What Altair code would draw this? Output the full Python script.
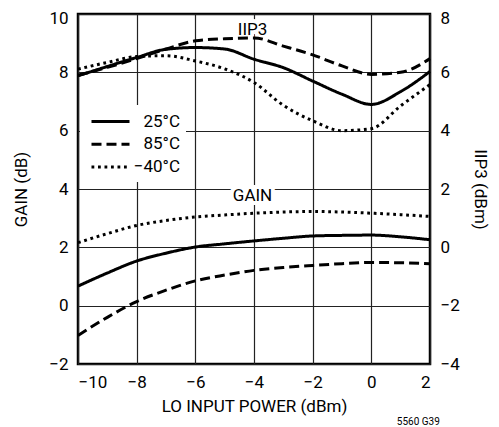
import altair as alt
import pandas as pd

# ---- data ----
lo_power = [-10, -9, -8, -7, -6, -5, -4, -3, -2, -1, 0, 1, 2]
series = ["25°C", "85°C", "−40°C"]

gain_25 = [0.67, 1.12, 1.53, 1.80, 2.01, 2.12, 2.22, 2.31, 2.39, 2.41, 2.42, 2.36, 2.26]
gain_85 = [-1.02, -0.40, 0.14, 0.53, 0.85, 1.05, 1.21, 1.31, 1.38, 1.44, 1.48, 1.47, 1.44]
gain_m40 = [2.16, 2.47, 2.75, 2.92, 3.04, 3.11, 3.17, 3.21, 3.23, 3.21, 3.17, 3.12, 3.06]

iip3_25 = [5.88, 6.20, 6.51, 6.79, 6.85, 6.80, 6.45, 6.16, 5.70, 5.25, 4.90, 5.34, 6.03]
iip3_85 = [5.90, 6.17, 6.47, 6.80, 7.08, 7.15, 7.18, 6.90, 6.60, 6.22, 5.93, 6.00, 6.47]
iip3_m40 = [6.11, 6.34, 6.54, 6.57, 6.39, 6.12, 5.65, 4.87, 4.34, 4.00, 4.07, 4.85, 5.58]

x_ticks = [-10, -8, -6, -4, -2, 0, 2]
gain_ticks = [-2, 0, 2, 4, 6, 8, 10]
iip3_ticks = [-4, -2, 0, 2, 4, 6, 8]

label_text = ["IIP3", "GAIN"]
label_x = [-4.05, -4.05]
label_y = [9.45, 3.75]          # in GAIN (left-axis) units

note_text = ["5560 G39"]
note_x = [1.6]
note_y = [-4.0]

FONT = "Roboto, Liberation Sans, Arial, sans-serif"
DASHES = [[1, 0], [10, 5], [2.8, 3.7]]

gain_df = pd.DataFrame({
    "x": lo_power * 3,
    "v": gain_25 + gain_85 + gain_m40,
    "s": [series[0]] * 13 + [series[1]] * 13 + [series[2]] * 13,
})
iip3_df = pd.DataFrame({
    "x": lo_power * 3,
    "v": iip3_25 + iip3_85 + iip3_m40,
    "s": [series[0]] * 13 + [series[1]] * 13 + [series[2]] * 13,
})
label_df = pd.DataFrame({"x": label_x, "y": label_y, "t": label_text})
note_df = pd.DataFrame({"x": note_x, "y": note_y, "t": note_text})

xscale = alt.Scale(domain=[-10, 2], nice=False, zero=False)
xenc = alt.X("x:Q", scale=xscale,
             axis=alt.Axis(values=x_ticks, title="LO INPUT POWER (dBm)", grid=True))

dash = alt.StrokeDash(
    "s:N",
    scale=alt.Scale(domain=series, range=DASHES),
    legend=alt.Legend(
        title=None, orient="none", legendX=2, legendY=91,
        fillColor="white", padding=6,
        symbolType="M-0.556,0L3.667,0",
        symbolSize=324, symbolStrokeWidth=3, symbolStrokeColor="black",
        labelFont=FONT, labelFontSize=17, labelColor="black",
        labelAlign="right",
        labelOffset=73, rowPadding=3.8,
    ),
)

gain_lines = alt.Chart(gain_df).mark_line(
    color="black", strokeWidth=3, interpolate="monotone"
).encode(
    x=xenc,
    y=alt.Y("v:Q", scale=alt.Scale(domain=[-2, 10], nice=False, zero=False),
            axis=alt.Axis(values=gain_ticks, title="GAIN (dB)", grid=True, orient="left",
                          labelOffset={"condition": {"test": "datum.value == 10", "value": 4}, "value": 0})),
    strokeDash=dash,
    detail="s:N",
)

halo = alt.Chart(label_df).mark_text(
    font=FONT, fontSize=17, stroke="white", strokeWidth=8, color="white"
).encode(x=alt.X("x:Q", scale=xscale), y=alt.Y("y:Q"), text="t:N")

labels = alt.Chart(label_df).mark_text(
    font=FONT, fontSize=17, color="black"
).encode(x=alt.X("x:Q", scale=xscale), y=alt.Y("y:Q"), text="t:N")

note = alt.Chart(note_df).mark_text(
    font=FONT, fontSize=10, color="black"
).encode(x=alt.X("x:Q", scale=xscale), y=alt.Y("y:Q"), text="t:N")

left = alt.layer(gain_lines, halo, labels, note)

iip3_lines = alt.Chart(iip3_df).mark_line(
    color="black", strokeWidth=3, interpolate="monotone"
).encode(
    x=xenc,
    y=alt.Y("v:Q", scale=alt.Scale(domain=[-4, 8], nice=False, zero=False),
            axis=alt.Axis(values=iip3_ticks, title="IIP3 (dBm)", grid=False, orient="right",
                          labelOffset={"condition": {"test": "datum.value == 8", "value": 4}, "value": 0})),
    strokeDash=alt.StrokeDash("s:N", scale=alt.Scale(domain=series, range=DASHES), legend=None),
    detail="s:N",
)

chart = alt.layer(left, iip3_lines).resolve_scale(y="independent").properties(
    width=352, height=350,
    padding={"left": 70, "top": 6, "right": 61, "bottom": 63},
    autosize=alt.AutoSizeParams(type="none"),
    background="white",
).configure_view(
    stroke="black", strokeWidth=2.5
).configure_axis(
    labelFont=FONT, labelFontSize=17, labelColor="black",
    titleFont=FONT, titleFontSize=17, titleFontWeight="normal", titleColor="black",
    domain=False, ticks=False, labelPadding=10,
    gridColor="#222", gridWidth=1.2, gridOpacity=1,
).configure_axisBottom(
    labelPadding=10, titlePadding=8
).configure_axisLeft(
    titlePadding=18
).configure_axisRight(
    titlePadding=11
)

chart.save("out.html", embed_options={"renderer": "svg", "actions": False})
